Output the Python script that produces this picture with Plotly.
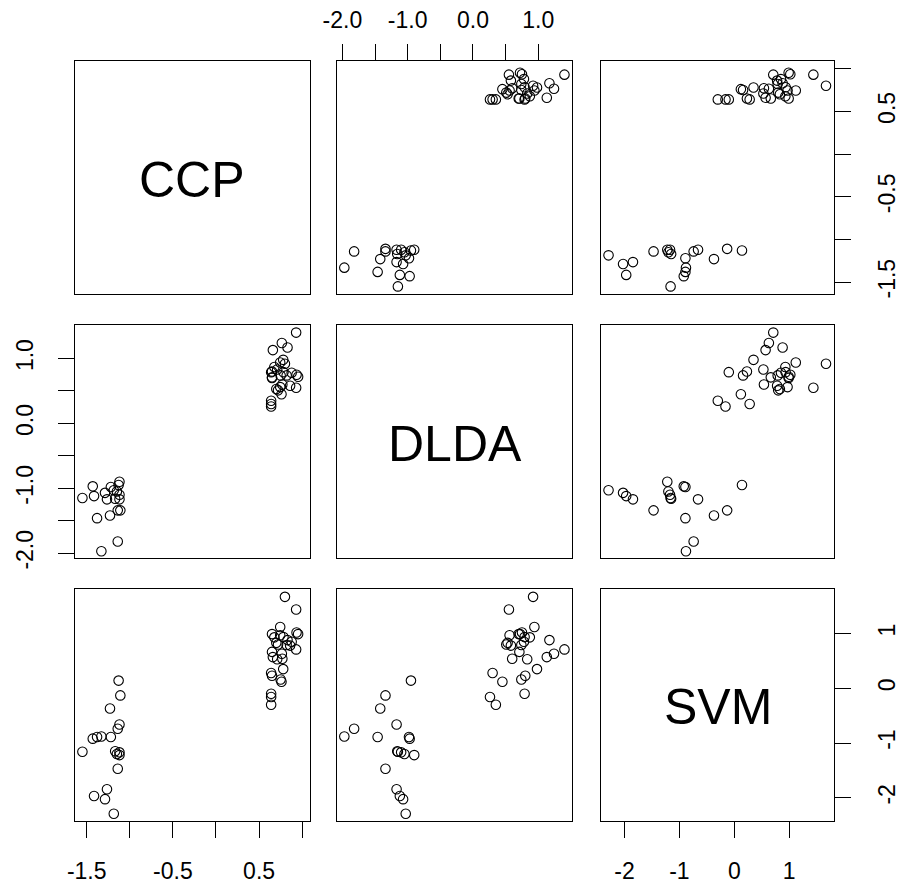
import plotly.graph_objects as go

# ---------------- data ----------------
var_names = ["CCP", "DLDA", "SVM"]

ccp = [-1.13, -1.11, -1.23, -1.12, -1.14, -1.22, -1.33, -1.38, -1.43, -1.55,
       -1.15, -1.12, -1.14, -1.265, -1.415, -1.288, -1.186, -1.12, -1.17,
       0.80, 0.93, 0.745, 0.93, 0.764, 0.83, 0.66,
       0.64, 0.64, 0.64, 0.64, 0.76, 0.75, 0.65, 0.78,
       0.935, 0.953, 0.65, 0.677, 0.745, 0.783, 0.878, 0.70, 0.72, 0.65,
       0.77, 0.71, 0.86, 0.82]
dlda = [-0.95, -1.34, -1.42, -1.17, -1.82, -0.98, -1.97, -1.46, -0.97, -1.15,
        -1.05, -1.10, -1.34, -1.17, -1.12, -1.07, -1.03, -0.90, -1.16,
        0.92, 0.55, 0.94, 1.40, 1.24, 1.17, 1.13,
        0.26, 0.35, 0.79, 0.30, 0.45, 0.74, 0.80, 0.98,
        0.75, 0.72, 0.70, 0.87, 0.56, 0.79, 0.78, 0.53, 0.51, 0.71,
        0.60, 0.83, 0.58, 0.74]
svm = [0.14, -0.13, -0.37, -0.66, -0.74, -0.89, -0.88, -0.89, -0.92, -1.16,
       -1.20, -1.17, -1.47, -1.845, -1.968, -2.025, -2.29, -1.22, -1.15,
       1.67, 1.44, 1.12, 0.71, 0.63, 0.88, 0.57,
       -0.16, -0.30, -0.10, 0.28, 0.12, 0.16, 0.23, 0.35,
       1.02, 0.99, 0.99, 0.93, 0.97, 0.935, 0.85, 0.83, 0.80, 0.665,
       0.54, 0.53, 0.78, 0.79]

data = {"CCP": ccp, "DLDA": dlda, "SVM": svm}

ranges = {"CCP": [-1.637, 1.087], "DLDA": [-2.075, 1.51], "SVM": [-2.42, 1.81]}
tick_values = {"CCP": [-1.5, -1.0, -0.5, 0.0, 0.5, 1.0],
               "DLDA": [-2.0, -1.5, -1.0, -0.5, 0.0, 0.5, 1.0],
               "SVM": [-2, -1, 0, 1]}
tick_labels = {"CCP": ["-1.5", "", "-0.5", "", "0.5", ""],
               "DLDA": ["-2.0", "", "-1.0", "", "0.0", "", "1.0"],
               "SVM": ["-2", "-1", "0", "1"]}

# ---------------- layout geometry ----------------
W, H = 900, 896
col_px = [(61, 300), (328.3, 566.7), (597, 833.5)]
row_px = [(62, 297.5), (329.5, 565), (596.5, 831)]

FONT = "Liberation Sans, Arial, sans-serif"
tickfont = dict(family=FONT, size=23, color="black")

fig = go.Figure()
layout = {}
annotations = []

for i in range(3):
    for j in range(3):
        k = i * 3 + j + 1
        sfx = "" if k == 1 else str(k)
        xname, yname = "xaxis" + sfx, "yaxis" + sfx
        xref, yref = "x" + sfx, "y" + sfx
        xd = [col_px[j][0] / W, col_px[j][1] / W]
        yd = [1 - row_px[i][1] / H, 1 - row_px[i][0] / H]
        common = dict(showgrid=False, zeroline=False, showline=True, mirror=True,
                      linecolor="black", linewidth=1.3, ticks="",
                      showticklabels=False, fixedrange=True)
        xax = dict(domain=xd, anchor=yref, **common)
        yax = dict(domain=yd, anchor=xref, **common)
        vx, vy = var_names[j], var_names[i]
        xax["range"] = ranges[vx]
        yax["range"] = ranges[vy]
        if i == j:
            # empty trace so the diagonal panel (box and ticks) is drawn
            fig.add_trace(go.Scatter(x=[], y=[], mode="markers",
                                     xaxis=xref, yaxis=yref,
                                     showlegend=False, hoverinfo="skip"))
            annotations.append(dict(
                x=(xd[0] + xd[1]) / 2, y=(yd[0] + yd[1]) / 2,
                xref="paper", yref="paper", text=vx, showarrow=False,
                font=dict(family=FONT, size=50, color="black"),
                xanchor="center", yanchor="middle", yshift=-2))
        else:
            fig.add_trace(go.Scatter(
                x=data[vx], y=data[vy], mode="markers", xaxis=xref, yaxis=yref,
                marker=dict(symbol="circle-open", size=9.5, color="black",
                            line=dict(width=1.1, color="black")),
                showlegend=False, hoverinfo="skip"))
        tick_style = dict(ticks="outside", ticklen=16, tickwidth=1.3,
                          tickcolor="black", showticklabels=True,
                          tickfont=tickfont)
        if i == 0 and j % 2 == 1:
            xax.update(tick_style, side="top", tickvals=tick_values[vx],
                       ticktext=tick_labels[vx], ticklabelstandoff=7)
        if i == 2 and j % 2 == 0:
            xax.update(tick_style, side="bottom", tickvals=tick_values[vx],
                       ticktext=tick_labels[vx], ticklabelstandoff=13)
        if j == 0 and i % 2 == 1:
            yax.update(tick_style, side="left", tickvals=tick_values[vy],
                       ticktext=tick_labels[vy], tickangle=-90,
                       ticklabelstandoff=16)
        if j == 2 and i % 2 == 0:
            yax.update(tick_style, side="right", tickvals=tick_values[vy],
                       ticktext=tick_labels[vy], tickangle=-90,
                       ticklabelstandoff=17)
        layout[xname] = xax
        layout[yname] = yax

fig.update_layout(**layout)
fig.update_layout(width=W, height=H, margin=dict(l=0, r=0, t=0, b=0),
                  paper_bgcolor="white", plot_bgcolor="white",
                  annotations=annotations, showlegend=False)

fig.write_html("out.html")
